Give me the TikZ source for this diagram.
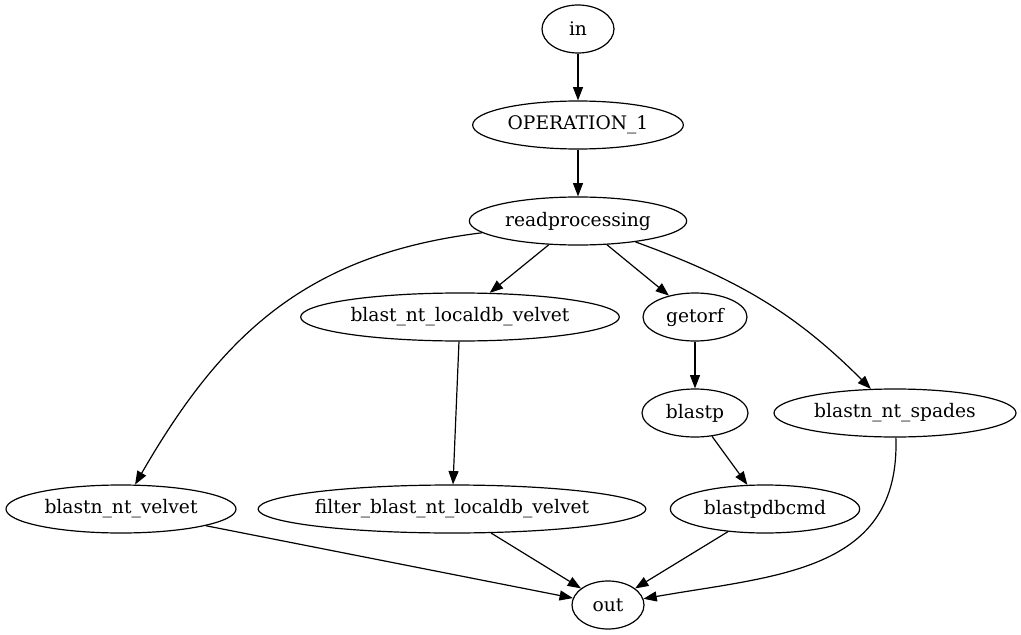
\documentclass[tikz,border=0pt]{standalone}
\usepackage{fontspec}
\setmainfont{DejaVu Serif}
\usetikzlibrary{positioning,arrows.meta,shapes.geometric}

\begin{document}
\begin{tikzpicture}[
        x=0.75pt, y=-0.75pt,
        proc/.style={ellipse, draw, line width=0.9pt, inner sep=0pt, minimum height=36pt,
          font=\fontsize{14}{16}\selectfont},
        arr/.style={-{Triangle[length=10pt, width=7.5pt]}, line width=0.9pt},
      ]
        \useasboundingbox (0, 0) rectangle (1021, 635);

        % Top chain
        \node[proc, minimum width=54pt]  (in)       at (578, 29)  {in};
        \node[proc, minimum width=158pt] (op1)      at (578, 125) {OPERATION\_1};
        \node[proc, minimum width=163pt] (readproc) at (578, 221) {readprocessing};

        % Middle rows
        \node[proc, minimum width=239pt] (localdb) at (460, 317) {blast\_nt\_localdb\_velvet};
        \node[proc, minimum width=78pt]  (getorf)  at (695, 317) {getorf};
        \node[proc, minimum width=79.5pt] (blastp) at (695, 413) {blastp};
        \node[proc, minimum width=181.5pt] (spades) at (895, 413) {blastn\_nt\_spades};

        % Bottom row
        \node[proc, minimum width=172.5pt] (velvet) at (121, 509) {blastn\_nt\_velvet};
        \node[proc, minimum width=289.5pt] (filter) at (452, 509) {filter\_blast\_nt\_localdb\_velvet};
        \node[proc, minimum width=142pt]   (pdbcmd) at (765, 509) {blastpdbcmd};
        \node[proc, minimum width=54pt]    (out)    at (608, 605) {out};

        % Edges
        \draw[arr] (in) -- (op1);
        \draw[arr] (op1) -- (readproc);
        \draw[arr] (readproc) -- (localdb);
        \draw[arr] (readproc) -- (getorf);
        \draw[arr] (readproc) to[out=187, in=60, looseness=1.05] (velvet);
        \draw[arr] (readproc) to[out=-20, in=135] (spades);
        \draw[arr] (localdb) -- (filter);
        \draw[arr] (getorf) -- (blastp);
        \draw[arr] (blastp) -- (pdbcmd);
        \draw[arr] (velvet) -- (out);
        \draw[arr] (filter) -- (out);
        \draw[arr] (pdbcmd) -- (out);
        \draw[arr] (spades) to[out=-88, in=10, looseness=1.15] (out);
      \end{tikzpicture}
\end{document}
